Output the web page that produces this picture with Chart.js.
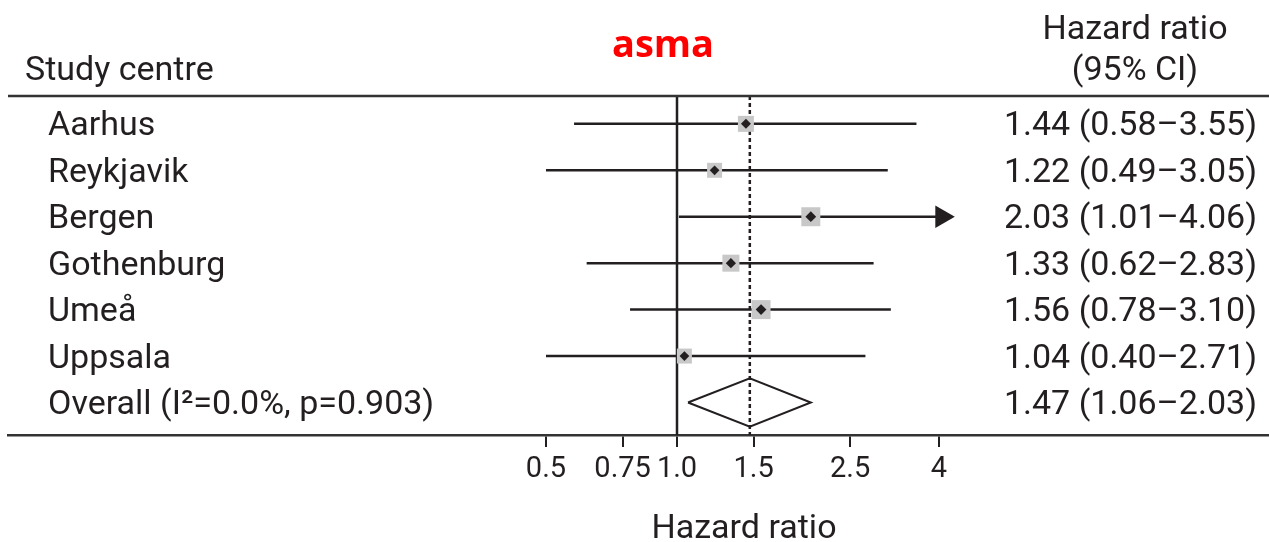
<!DOCTYPE html>
<html>
<head>
<meta charset="utf-8">
<script src="https://cdn.jsdelivr.net/npm/chart.js@4/dist/chart.umd.min.js"></script>
<style>
  html, body { margin: 0; padding: 0; background: #fff; }
  canvas { display: block; }
</style>
</head>
<body>
<canvas id="forest" width="1269" height="542"></canvas>
<script>
// study rows
const studies = ["Aarhus", "Reykjavik", "Bergen", "Gothenburg", "Umeå", "Uppsala"];
const hazardRatio = [1.44, 1.22, 2.03, 1.33, 1.56, 1.04];
const ciLower = [0.58, 0.49, 1.01, 0.62, 0.78, 0.40];
const ciUpper = [3.55, 3.05, 4.06, 2.83, 3.10, 2.71];
const studyWeight = [16, 15, 19, 17, 19, 15];

// pooled estimate
const overallLabel = "Overall (I²=0.0%, p=0.903)";
const overallHR = 1.47;
const overallLower = 1.06;
const overallUpper = 2.03;

// x axis
const tickValues = [0.5, 0.75, 1, 1.5, 2.5, 4];
const tickLabels = ["0.5", "0.75", "1.0", "1.5", "2.5", "4"];
const plotMin = 0.5;
const plotMax = 4;

const INK = "#231f20";
const FONT = "Roboto, sans-serif";
const rows = studies.length + 1;
const yTop = -0.6;
const yBottom = rows - 0.3;

const fmt = (v) => v.toFixed(2);
const ciText = (hr, lo, hi) => `${fmt(hr)} (${fmt(lo)}–${fmt(hi)})`;

const ciLines = studies.map((name, i) => ({
  label: name,
  data: [
    { x: Math.max(ciLower[i], plotMin), y: i },
    { x: ciUpper[i], y: i },
  ],
  showLine: true,
  borderColor: INK,
  borderWidth: 2.5,
  pointRadius: 0,
  order: 5,
}));

// arrow heads for intervals running past the plotted range
const arrowPoints = studies
  .map((_, i) => ({ x: ciUpper[i], y: i, over: ciUpper[i] > plotMax }))
  .filter((p) => p.over)
  .map(({ x, y }) => ({ x, y }));

const datasets = [
  {
    label: "estimate",
    data: hazardRatio.map((v, i) => ({ x: v, y: i })),
    pointStyle: "rectRot",
    pointRadius: studyWeight.map((w) => 3 + w / 8),
    backgroundColor: INK,
    borderWidth: 0,
    order: 1,
  },
  {
    label: "weight",
    data: hazardRatio.map((v, i) => ({ x: v, y: i })),
    pointStyle: "rect",
    pointRadius: studyWeight.map((w) => w / Math.SQRT2),
    backgroundColor: "#c8c8c8",
    borderWidth: 0,
    order: 2,
  },
  {
    label: "arrow",
    data: arrowPoints,
    pointStyle: "triangle",
    rotation: 90,
    pointRadius: 13,
    backgroundColor: INK,
    borderWidth: 0,
    order: 3,
  },
  ...ciLines,
  {
    label: "overall",
    data: [
      { x: overallLower, y: rows - 1 },
      { x: overallHR, y: rows - 1.52 },
      { x: overallUpper, y: rows - 1 },
      { x: overallHR, y: rows - 0.48 },
      { x: overallLower, y: rows - 1 },
    ],
    showLine: true,
    borderColor: INK,
    borderWidth: 2,
    pointRadius: 0,
    order: 4,
  },
  {
    label: "null",
    data: [{ x: 1, y: yTop }, { x: 1, y: yBottom }],
    showLine: true,
    borderColor: INK,
    borderWidth: 2.5,
    pointRadius: 0,
    order: 6,
  },
  {
    label: "pooled",
    data: [{ x: overallHR, y: yTop }, { x: overallHR, y: yBottom }],
    showLine: true,
    borderColor: INK,
    borderWidth: 2.5,
    borderDash: [4, 3],
    pointRadius: 0,
    order: 7,
  },
];

const textPlugin = {
  id: "forestText",
  afterDraw(chart) {
    const { ctx, chartArea, scales } = chart;
    const y = scales.y;
    ctx.save();
    // header rule
    ctx.strokeStyle = "#333";
    ctx.lineWidth = 2.5;
    ctx.beginPath();
    ctx.moveTo(chartArea.left, chartArea.top);
    ctx.lineTo(chartArea.right, chartArea.top);
    ctx.stroke();

    ctx.fillStyle = INK;
    ctx.textBaseline = "middle";
    ctx.font = `400 34px ${FONT}`;
    ctx.textAlign = "left";
    ctx.fillText("Study centre", 25, 71);
    ctx.textAlign = "center";
    ctx.fillText("Hazard ratio", 1135, 30);
    ctx.fillText("(95% CI)", 1135, 71);

    // roboto sits a little high on a middle baseline
    const nudge = 3;
    studies.forEach((name, i) => {
      const py = y.getPixelForValue(i) + nudge;
      ctx.textAlign = "left";
      ctx.fillText(name, 48, py);
      ctx.textAlign = "right";
      ctx.fillText(ciText(hazardRatio[i], ciLower[i], ciUpper[i]), 1257, py);
    });
    const oy = y.getPixelForValue(rows - 1) + nudge;
    ctx.textAlign = "left";
    ctx.fillText(overallLabel, 48, oy);
    ctx.textAlign = "right";
    ctx.fillText(ciText(overallHR, overallLower, overallUpper), 1257, oy);

    // axis title
    ctx.textAlign = "center";
    ctx.fillText("Hazard ratio", 744, 529);

    // title
    ctx.fillStyle = "#ff0000";
    ctx.font = `700 38px "Open Sans", sans-serif`;
    ctx.fillText("asma", 663, 46);
    ctx.restore();
  },
};

// log scale anchored so 1.0 sits at x=677 with 189 px per unit of ln
const left = 8, right = 1269, xOne = 677, pxPerLn = 189;

new Chart(document.getElementById("forest"), {
  type: "scatter",
  data: { datasets },
  options: {
    responsive: false,
    animation: false,
    layout: { autoPadding: false, padding: { top: 96, left: left, right: 0, bottom: 47 } },
    plugins: { legend: { display: false }, tooltip: { enabled: false } },
    scales: {
      x: {
        type: "logarithmic",
        min: Math.exp((left - xOne) / pxPerLn),
        max: Math.exp((right - xOne) / pxPerLn),
        afterBuildTicks: (scale) => {
          scale.ticks = tickValues.map((v) => ({ value: v }));
        },
        afterFit: (scale) => {
          scale.height = 60;
        },
        border: { display: true, color: "#333", width: 2.5 },
        grid: { drawOnChartArea: false, drawTicks: true, tickLength: 12, color: INK, lineWidth: 2 },
        ticks: {
          autoSkip: false,
          maxRotation: 0,
          padding: 5,
          color: INK,
          font: { family: FONT, size: 29 },
          callback: (value, index) => tickLabels[index],
        },
      },
      y: {
        type: "linear",
        reverse: true,
        min: yTop,
        max: yBottom,
        display: false,
      },
    },
  },
  plugins: [textPlugin],
});
</script>
</body>
</html>
